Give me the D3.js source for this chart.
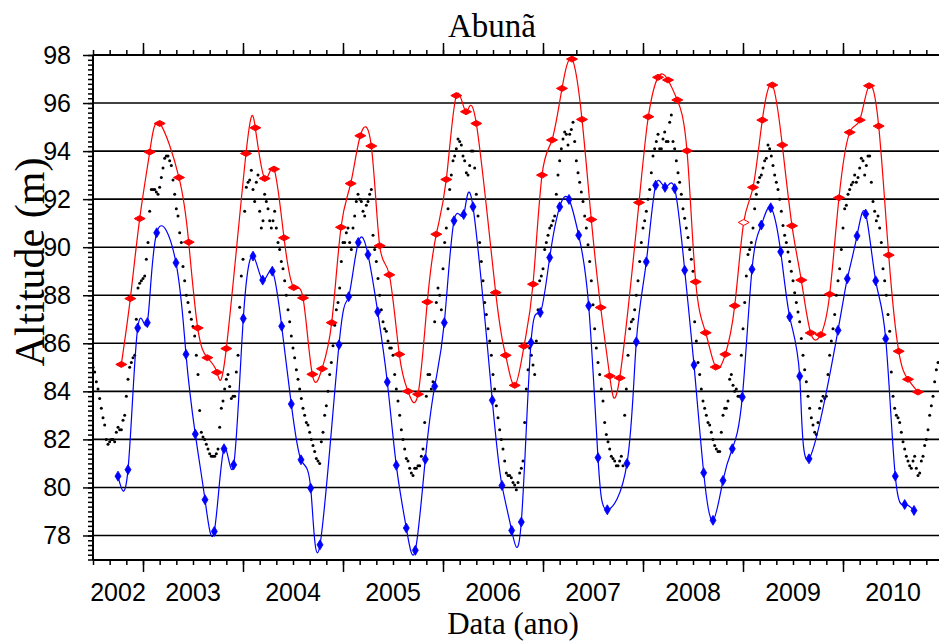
<!DOCTYPE html>
<html>
<head>
<meta charset="utf-8">
<script src="https://cdn.jsdelivr.net/npm/d3@7"></script>
<style>
  body { margin: 0; background: #fff; }
  svg { display: block; }
</style>
</head>
<body>
<div id="chart"></div>
<script>
// ---- data ----
var title = "Abunã";
var xLabel = "Data (ano)";
var yLabel = "Altitude (m)";
var yearLabels = [2002, 2003, 2004, 2005, 2006, 2007, 2008, 2009, 2010];
var altTicks = [78, 80, 82, 84, 86, 88, 90, 92, 94, 96, 98];

// upper envelope (red), decimal year / altitude
var redYears = [2002.783, 2002.873, 2002.967, 2003.067, 2003.167, 2003.36, 2003.457, 2003.547, 2003.643, 2003.74,
  2003.833, 2004.03, 2004.123, 2004.217, 2004.31, 2004.41, 2004.507, 2004.6, 2004.693, 2004.79,
  2004.887, 2004.98, 2005.077, 2005.173, 2005.283, 2005.367, 2005.463, 2005.563, 2005.65, 2005.75,
  2005.843, 2005.933, 2006.033, 2006.133, 2006.23, 2006.333, 2006.527, 2006.627, 2006.717, 2006.81,
  2006.9, 2006.99, 2007.09, 2007.19, 2007.29, 2007.39, 2007.483, 2007.577, 2007.667, 2007.767,
  2007.96, 2008.053, 2008.15, 2008.25, 2008.343, 2008.44, 2008.527, 2008.627, 2008.727, 2008.823,
  2008.917, 2009.007, 2009.1, 2009.193, 2009.293, 2009.393, 2009.49, 2009.583, 2009.677, 2009.777,
  2009.867, 2009.96, 2010.067, 2010.167, 2010.26, 2010.357, 2010.457, 2010.557, 2010.65, 2010.75];
var redAlt = [85.12, 87.86, 91.19, 93.96, 95.15, 92.9, 90.21, 86.64, 85.4, 84.79,
  85.78, 93.9, 94.97, 92.86, 93.25, 90.39, 88.32, 87.89, 84.71, 84.94,
  86.86, 90.83, 92.65, 94.64, 94.21, 90.06, 88.85, 85.54, 84.0, 83.88,
  87.72, 90.54, 92.82, 96.31, 95.64, 95.15, 88.11, 85.5, 84.25, 85.88,
  88.46, 93.0, 94.46, 96.61, 97.83, 95.32, 91.15, 87.49, 84.64, 84.56,
  91.86, 95.43, 97.07, 96.96, 96.13, 94.01, 88.56, 86.44, 85.01, 85.54,
  87.56, 91.03, 92.49, 95.29, 96.75, 94.25, 90.89, 88.63, 86.43, 86.36,
  88.04, 92.06, 94.78, 95.29, 96.72, 95.04, 89.67, 85.67, 84.5, 83.97];

// lower envelope (blue)
var blueYears = [2002.75, 2002.85, 2002.947, 2003.043, 2003.137, 2003.33, 2003.43, 2003.523, 2003.62, 2003.713,
  2003.81, 2003.907, 2004.003, 2004.1, 2004.197, 2004.293, 2004.387, 2004.483, 2004.58, 2004.677,
  2004.77, 2004.96, 2005.057, 2005.153, 2005.25, 2005.347, 2005.443, 2005.533, 2005.633, 2005.723,
  2005.823, 2005.917, 2006.013, 2006.11, 2006.207, 2006.3, 2006.493, 2006.59, 2006.687, 2006.783,
  2006.88, 2006.973, 2007.067, 2007.167, 2007.26, 2007.357, 2007.457, 2007.55, 2007.643, 2007.84,
  2007.933, 2008.033, 2008.127, 2008.22, 2008.317, 2008.417, 2008.51, 2008.607, 2008.7, 2008.8,
  2008.893, 2008.993, 2009.09, 2009.183, 2009.277, 2009.377, 2009.467, 2009.567, 2009.66, 2009.95,
  2010.043, 2010.14, 2010.227, 2010.327, 2010.427, 2010.523, 2010.617, 2010.71];
var blueAlt = [80.47, 80.74, 86.64, 86.86, 90.6, 89.35, 85.54, 82.22, 79.49, 78.17,
  81.61, 80.94, 87.03, 89.63, 88.63, 89.0, 86.71, 83.47, 81.15, 79.97,
  77.61, 85.94, 87.94, 90.2, 89.69, 87.31, 84.39, 80.92, 78.31, 77.38,
  81.17, 84.21, 86.86, 91.1, 91.36, 91.68, 83.63, 80.08, 78.21, 78.56,
  86.03, 87.28, 89.57, 91.68, 91.99, 90.5, 87.56, 81.24, 79.07, 81.0,
  86.06, 89.39, 92.58, 92.49, 92.44, 89.04, 85.1, 80.61, 78.63, 80.29,
  81.61, 83.76, 89.08, 90.92, 91.64, 89.81, 87.1, 84.63, 81.19, 86.54,
  88.69, 90.47, 91.38, 88.6, 86.19, 80.47, 79.29, 79.04];
var hollowRed = [2009.007];

// observed levels (black): readings every 1/30 year from mid-2002 (obsAlt),
// and a second set of readings half a step later (obsAltMid)
var obsStart = 2002.5;
var obsPerYear = 30;
var obsAlt = [
  85.0, 84.4, 83.7, 82.9, 82.0, 81.9, 82.0, 82.3, 82.4, 82.8, 83.8, 85.0, 85.4, 87.0, 88.5,
  88.7, 89.5, 91.5, 92.4, 92.3, 92.5, 93.3, 93.8, 93.6, 92.8, 91.6, 90.6, 89.2, 88.0, 87.3,
  86.7, 85.5, 83.2, 82.1, 81.8, 81.4, 81.3, 81.4, 82.5, 83.6, 84.5, 84.2, 83.8, 84.8, 87.5,
  89.5,
  92.5, 92.8, 92.4, 92.7, 91.5, 91.1, 91.9, 91.1, 91.1, 90.8, 89.9, 89.1, 88.0, 86.9, 85.8,
  84.9, 84.1, 83.3, 82.7, 82.3, 81.75, 81.2, 81.0, 82.3, 83.4, 84.7, 85.9, 87.4, 88.3, 90.2,
  90.6, 90.2, 90.8, 91.9, 92.0, 91.5, 91.75, 92.2, 90.5, 89.4, 88.0, 86.9, 86.5, 85.8, 85.5,
  84.1, 83.0, 82.0, 81.2, 80.8, 80.5, 80.8, 80.9, 81.6, 83.8, 84.7, 84.4, 87.7, 88.0, 89.1,
  90.8, 92.4, 93.6, 94.1, 94.4, 93.8, 93.1, 93.4, 94.0, 92.2, 90.2, 88.6, 87.2, 86.1, 84.7,
  83.4, 82.4, 81.6, 80.6, 80.5, 80.2, 79.9, 80.6, 81.1, 84.1, 85.8, 85.1, 86.1, 88.6, 89.1,
  90.2, 90.8, 91.1, 92.2, 93.6, 94.5, 94.7, 94.7, 95.2, 93.6, 92.7, 91.9, 90.8, 89.4, 87.6,
  85.8, 84.7, 83.6, 82.2, 81.6, 81.2, 80.9, 81.1, 80.9, 84.1, 86.6, 87.0, 88.0, 89.4, 90.8,
  91.5, 92.4, 93.8, 94.4, 94.1, 94.5, 94.4, 95.2, 94.4, 93.6, 92.7, 91.6, 90.8, 89.9, 89.0,
  86.1, 84.7, 83.6, 83.0, 82.6, 82.0, 81.6, 81.5, 83.0, 83.3, 84.5, 84.25, 84.1, 83.8, 86.6,
  88.8, 89.9, 90.8, 92.2, 92.9, 93.3, 93.7, 94.1, 93.4, 92.7, 92.0, 90.9, 90.2, 89.4, 88.6,
  87.7, 86.9, 85.5, 84.4, 83.3, 82.6, 82.2, 83.3, 83.8, 83.8, 85.5, 86.6, 88.0, 89.1, 90.8,
  91.75, 92.4, 92.7, 92.7, 93.3, 93.6, 93.4, 93.8, 91.9, 91.1, 90.8, 89.1, 88.0, 86.5, 83.8,
  83.0, 82.7, 81.9, 81.3, 80.9, 81.1, 80.8, 80.6, 81.3, 82.0, 83.0, 83.8, 84.9
];
var obsAltMid = [
  84.8, 84.1, 83.3, 82.6, 81.8, 82.0, 81.9, 82.5, 82.4, 83.0, 84.5, 85.2, 85.5, 88.3, 88.6,
  88.8, 90.2, 92.4, 92.4, 92.2, 92.9, 93.7, 93.8, 93.4, 92.2, 91.3, 90.2, 88.6, 87.7, 87.0,
  86.3, 84.7, 82.3, 82.0, 81.6, 81.3, 81.3, 81.6, 83.3, 84.1, 84.7, 83.7, 83.8, 85.5, 88.8,
  91.5, 92.7, 93.2, 91.9, 93.0, 90.8, 92.2, 91.6, 90.8, 91.5, 90.2, 89.4, 88.6, 87.4, 86.3,
  85.4, 84.5, 83.7, 83.0, 82.6, 82.0, 81.5, 81.1, 81.9, 83.0, 84.0, 85.2, 86.75, 87.7, 89.4,
  90.2, 90.8, 89.9, 91.3, 92.2, 91.9, 91.3, 91.9, 92.4, 89.9, 88.7, 87.4, 86.6, 86.1, 85.8,
  84.7, 83.6, 82.4, 81.6, 81.1, 80.6, 80.8, 80.9, 81.3, 82.7, 84.7, 84.1, 86.9, 88.3, 87.4,
  90.2, 91.6, 93.0, 93.8, 94.5, 94.25, 93.6, 93.0, 94.0, 93.3, 91.3, 89.4, 87.7, 86.6, 85.5,
  84.1, 82.9, 82.0, 81.1, 80.5, 80.4, 80.1, 80.2, 80.8, 82.7, 84.9, 85.5, 84.7, 87.4, 88.8,
  89.9, 90.5, 90.9, 91.3, 93.0, 94.1, 94.8, 94.25, 94.9, 94.4, 93.1, 92.3, 91.3, 90.1, 88.6,
  86.6, 85.2, 84.1, 82.7, 81.9, 81.3, 81.1, 80.9, 81.3, 83.0, 85.5, 86.9, 87.4, 88.6, 90.2,
  91.1, 92.0, 93.1, 94.1, 94.7, 94.1, 94.8, 94.4, 95.5, 94.1, 93.1, 92.2, 91.2, 90.4, 89.5,
  86.9, 85.2, 84.1, 83.3, 82.7, 82.3, 81.75, 81.5, 82.3, 83.3, 83.6, 84.7, 84.0, 83.8, 85.5,
  87.7, 89.7, 90.2, 91.6, 92.7, 93.0, 93.6, 94.25, 93.8, 93.0, 92.4, 91.5, 90.5, 89.8, 89.0,
  88.1, 87.3, 86.2, 84.9, 83.8, 82.9, 82.3, 82.7, 83.6, 83.7, 84.7, 86.1, 87.2, 88.6, 89.9,
  91.6, 92.2, 92.6, 93.0, 92.9, 93.7, 93.0, 93.8, 92.7, 91.5, 91.3, 90.2, 88.6, 87.2, 84.8,
  83.3, 82.9, 82.3, 81.6, 81.1, 80.8, 81.3, 80.5, 81.1, 81.75, 82.4, 83.4, 84.4, 85.2
];

// ---- layout ----
var W = 939, H = 641;
var plotBox = {left: 93, top: 55, bottom: 560, right: 943};

var xScale = d3.scaleLinear().domain([2002.5, 2011]).range([plotBox.left, plotBox.right]);
var yScale = d3.scaleLinear().domain([77, 98]).range([plotBox.bottom - 0.5, plotBox.top]);

var svg = d3.select("#chart").append("svg")
    .attr("width", W).attr("height", H)
    .style("background", "#fff");

svg.append("defs").append("clipPath").attr("id", "plotclip")
  .append("rect")
    .attr("x", plotBox.left).attr("y", plotBox.top)
    .attr("width", plotBox.right - plotBox.left).attr("height", plotBox.bottom - plotBox.top);

// gridlines
svg.append("g").attr("class", "grid")
  .selectAll("line").data(altTicks.filter(d => d < 98)).enter().append("line")
    .attr("x1", plotBox.left).attr("x2", plotBox.right)
    .attr("y1", d => yScale(d)).attr("y2", d => yScale(d))
    .attr("stroke", "#000").attr("stroke-width", 1.6);

// ---- axes ----
var minorYears = d3.range(0, 52).map(i => 2002.5 + i / 6);
var majorYears = d3.range(2003, 2011);
var minorAlt = d3.range(0, 106).map(i => 77 + i * 0.2);

function styleAxis(g) {
  g.selectAll(".domain").remove();
  g.selectAll(".tick line").attr("stroke", "#000").attr("stroke-width", 1.5);
}

svg.append("g").attr("transform", "translate(0," + plotBox.bottom + ")")
  .call(d3.axisBottom(xScale).tickValues(minorYears).tickSize(5).tickFormat(""))
  .call(styleAxis);
svg.append("g").attr("transform", "translate(0," + plotBox.bottom + ")")
  .call(d3.axisBottom(xScale).tickValues(majorYears).tickSize(12).tickFormat(""))
  .call(styleAxis);
svg.append("g").attr("transform", "translate(0," + plotBox.top + ")")
  .call(d3.axisTop(xScale).tickValues(minorYears).tickSize(5).tickFormat(""))
  .call(styleAxis);
svg.append("g").attr("transform", "translate(0," + plotBox.top + ")")
  .call(d3.axisTop(xScale).tickValues(majorYears).tickSize(12).tickFormat(""))
  .call(styleAxis);

svg.append("g").attr("transform", "translate(" + plotBox.left + ",0)")
  .call(d3.axisLeft(yScale).tickValues(minorAlt).tickSize(5).tickFormat(""))
  .call(styleAxis);
var yAxisG = svg.append("g").attr("transform", "translate(" + plotBox.left + ",0)")
  .call(d3.axisLeft(yScale).tickValues(altTicks).tickSize(10).tickPadding(12).tickFormat(d3.format("d")))
  .call(styleAxis);
yAxisG.selectAll(".tick text")
  .attr("fill", "#000")
  .style("font-family", "'Liberation Sans', Arial, sans-serif")
  .style("font-size", "25px");

// frame lines
svg.append("line").attr("x1", plotBox.left).attr("x2", plotBox.right)
  .attr("y1", plotBox.top).attr("y2", plotBox.top)
  .attr("stroke", "#000").attr("stroke-width", 2);
svg.append("line").attr("x1", plotBox.left).attr("x2", plotBox.right)
  .attr("y1", plotBox.bottom).attr("y2", plotBox.bottom)
  .attr("stroke", "#000").attr("stroke-width", 2);
svg.append("line").attr("x1", plotBox.left).attr("x2", plotBox.left)
  .attr("y1", plotBox.top).attr("y2", plotBox.bottom)
  .attr("stroke", "#000").attr("stroke-width", 2);

// year labels, centred on the visible part of each year
svg.append("g").selectAll("text").data(yearLabels).enter().append("text")
    .attr("x", d => (xScale(Math.max(d, 2002.5)) + xScale(Math.min(d + 1, 2011))) / 2)
    .attr("y", 601)
    .attr("text-anchor", "middle")
    .style("font-family", "'Liberation Sans', Arial, sans-serif")
    .style("font-size", "25px")
    .text(d => d);

// titles
svg.append("text").attr("x", 492).attr("y", 37)
  .attr("text-anchor", "middle")
  .style("font-family", "'Liberation Serif', 'Times New Roman', serif")
  .style("font-size", "33px")
  .text(title);
svg.append("text").attr("x", 513).attr("y", 634)
  .attr("text-anchor", "middle")
  .style("font-family", "'Liberation Serif', 'Times New Roman', serif")
  .style("font-size", "31px")
  .text(xLabel);
svg.append("text")
  .attr("transform", "translate(44," + 262 + ") rotate(-90)")
  .attr("text-anchor", "middle")
  .style("font-family", "'Liberation Serif', 'Times New Roman', serif")
  .style("font-size", "42px")
  .text(yLabel);

// ---- marks ----
var plot = svg.append("g").attr("clip-path", "url(#plotclip)");

var obs = obsAlt.map((v, i) => ({t: obsStart + i / obsPerYear, v: v}))
  .concat(obsAltMid.map((v, i) => ({t: obsStart + (i + 0.5) / obsPerYear, v: v})));
plot.selectAll("circle.dot").data(obs).enter().append("circle")
    .attr("class", "dot")
    .attr("cx", d => xScale(d.t))
    .attr("cy", d => yScale(d.v))
    .attr("r", 1.5)
    .attr("fill", "#000");

var red = redYears.map((t, i) => ({t: t, v: redAlt[i]}));
var blue = blueYears.map((t, i) => ({t: t, v: blueAlt[i]}));

var line = d3.line().x(d => xScale(d.t)).y(d => yScale(d.v)).curve(d3.curveNatural);

plot.append("path").datum(red).attr("d", line)
  .attr("fill", "none").attr("stroke", "#ff0000").attr("stroke-width", 1.2);
plot.append("path").datum(blue).attr("d", line)
  .attr("fill", "none").attr("stroke", "#0000ff").attr("stroke-width", 1.2);

plot.selectAll("path.redmark").data(red).enter().append("path")
    .attr("class", "redmark")
    .attr("d", "M-5.5,0L0,-3L5.5,0L0,3Z")
    .attr("transform", d => "translate(" + xScale(d.t) + "," + yScale(d.v) + ")")
    .attr("fill", d => hollowRed.indexOf(d.t) >= 0 ? "#fff" : "#ff0000")
    .attr("stroke", "#ff0000").attr("stroke-width", 1);

plot.selectAll("path.bluemark").data(blue).enter().append("path")
    .attr("class", "bluemark")
    .attr("d", "M-3,0L0,-5L3,0L0,5Z")
    .attr("transform", d => "translate(" + xScale(d.t) + "," + yScale(d.v) + ")")
    .attr("fill", "#0000ff")
    .attr("stroke", "#0000ff").attr("stroke-width", 0.8);
</script>
</body>
</html>
